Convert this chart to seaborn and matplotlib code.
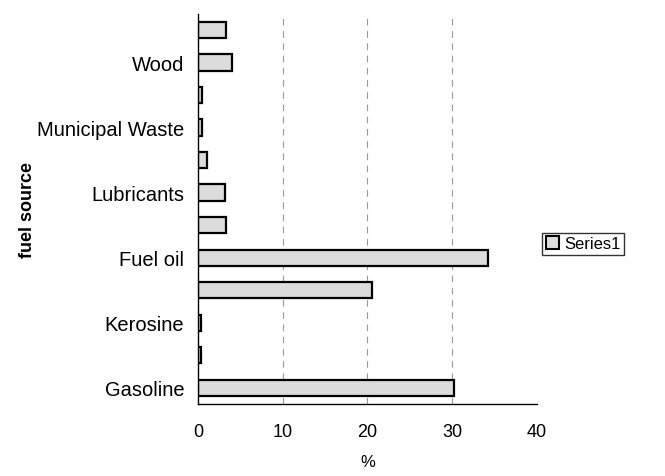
import matplotlib
matplotlib.use("Agg")
import matplotlib.pyplot as plt
import seaborn as sns
import pandas as pd
from matplotlib.patches import Patch

# Categories listed top to bottom
categories = ["Natural gas", "Wood", "Coal", "Municipal Waste", "Asphalt",
              "Lubricants", "Diesel", "Fuel oil", "Jet fuel", "Kerosine",
              "Aviation gasoline", "Gasoline"]
tick_labels = ["", "Wood", "", "Municipal Waste", "", "Lubricants", "",
               "Fuel oil", "", "Kerosine", "", "Gasoline"]
values = [3.3, 4.0, 0.4, 0.4, 1.0, 3.2, 3.3, 34.2, 20.6, 0.3, 0.3, 30.2]
series_name = "Series1"

df = pd.DataFrame({"fuel source": categories, "%": values})

sns.set_theme(style="white")
plt.rcParams["font.family"] = ["Liberation Sans", "DejaVu Sans"]
plt.rcParams["text.color"] = "black"
plt.rcParams["xtick.color"] = "black"
plt.rcParams["ytick.color"] = "black"
plt.rcParams["axes.labelcolor"] = "black"

fig = plt.figure(figsize=(6.65, 4.77), dpi=100)
ax = fig.add_axes([0.298, 0.151, 0.509, 0.818])

sns.barplot(data=df, y="fuel source", x="%", orient="h", order=categories,
            color="#dcdcdc", edgecolor="black", linewidth=1.6, width=0.5,
            saturation=1, ax=ax)

ax.set_xlim(0, 40)
ax.set_xticks([0, 10, 20, 30, 40])
ax.set_yticks(range(len(categories)))
ax.set_yticklabels(tick_labels, fontsize=14.5)
ax.tick_params(axis="x", labelsize=13, length=0, pad=14)
ax.tick_params(axis="y", length=0, pad=10)
for x in [10, 20, 30]:
    ax.axvline(x, color="#999999", lw=0.8, ls=(0, (6, 5)), zorder=0)
for s in ["top", "right"]:
    ax.spines[s].set_visible(False)
ax.spines["left"].set_color("black")
ax.spines["bottom"].set_color("black")
ax.spines["left"].set_linewidth(1.0)
ax.spines["bottom"].set_linewidth(1.0)

ax.set_xlabel("%", fontsize=12, labelpad=10)
ax.set_ylabel("fuel source", fontsize=13, fontweight="bold")
ax.yaxis.set_label_coords(-0.48, 0.5)

handles = [Patch(facecolor="#dcdcdc", edgecolor="black", linewidth=1.5, label=series_name)]
leg = fig.legend(handles=handles, loc="center left", bbox_to_anchor=(0.803, 0.487),
                 fontsize=12, frameon=True, fancybox=False, handlelength=0.8,
                 handleheight=0.8, handletextpad=0.3, borderpad=0.2)
leg.get_frame().set_edgecolor("black")
leg.get_frame().set_linewidth(1.0)

fig.savefig("out.png", dpi=100, facecolor="white")
